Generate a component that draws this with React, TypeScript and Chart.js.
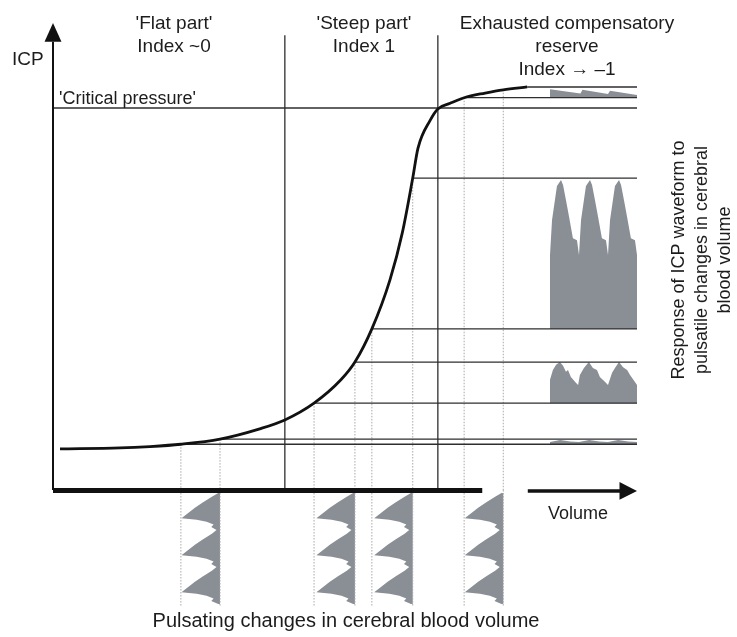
import { useEffect, useRef } from "react";
import { Chart, registerables } from "chart.js";

Chart.register(...registerables);

// ---------------- data ----------------
// Pressure–volume curve (volume and ICP in axis units, 0–100 along each axis)
const curveVolume = [1.2, 11.5, 16.6, 21.9, 28.6, 35.4, 39.7, 44.7, 49.3, 51.7, 54.6, 57.7, 59.8, 61.6, 62.5, 64.6, 65.9, 68.0, 70.4, 74.0, 77.1, 81.2];
const curveICP = [8.8, 9.0, 9.3, 9.8, 10.9, 13.1, 15.0, 18.6, 23.6, 27.4, 34.5, 45.0, 55.0, 66.8, 73.2, 79.2, 81.6, 82.8, 84.0, 85.0, 85.7, 86.3];

// Region boundaries and critical pressure
const regionBoundaryVolume = [39.7, 65.9];
const regionTopICP = 97.4;
const criticalICP = 81.8;

// Pulsatile volume change positions (left / right dotted lines) for the 4 cases
const pulseLowVolume = [21.9, 44.7, 54.6, 70.4];
const pulseHighVolume = [28.6, 51.7, 61.6, 77.1];
// ICP levels reached at these volumes
const responseLowICP = [9.8, 18.6, 34.5, 84.0];
const responseHighICP = [10.9, 27.4, 66.8, 86.3];
const responseHighStartVolume = [28.6, 51.7, 61.6, 81.2];
const pulseHighCurveICP = [10.9, 27.4, 66.8, 85.7];

// ICP response waveforms (time in cardiac cycles, 0–3)
const flatWaveTime = [0, 0.35, 0.7, 1.0, 1.35, 1.7, 2.0, 2.35, 2.7, 3.0];
const flatWaveICP = [10.3, 10.7, 10.4, 10.3, 10.7, 10.4, 10.3, 10.7, 10.4, 10.3];

const steepLowWaveTime = [0, 0.1, 0.21, 0.34, 0.45, 0.55, 0.62, 0.72, 0.9, 0.97, 1.03, 1.17, 1.34, 1.48, 1.62, 1.72, 1.9, 2.0, 2.14, 2.24, 2.38, 2.52, 2.66, 2.76, 2.93, 3.0];
const steepLowWaveICP = [23.6, 25.7, 26.8, 27.4, 26.6, 25.3, 25.7, 24.2, 22.9, 22.5, 24.6, 26.1, 27.4, 26.1, 25.7, 24.2, 23.1, 22.5, 25.1, 26.1, 27.4, 26.3, 25.7, 24.6, 23.1, 22.5];

const steepHighWaveTime = [0, 0.07, 0.17, 0.24, 0.38, 0.45, 0.55, 0.66, 0.79, 0.93, 1.0, 1.07, 1.17, 1.24, 1.38, 1.45, 1.55, 1.66, 1.79, 1.93, 2.0, 2.07, 2.17, 2.24, 2.38, 2.45, 2.55, 2.66, 2.79, 2.93, 3.0];
const steepHighWaveICP = [50.3, 57.8, 62.1, 65.1, 66.4, 65.3, 62.1, 58.4, 53.9, 53.5, 50.3, 57.8, 62.1, 65.1, 66.4, 65.3, 62.1, 58.4, 53.9, 53.5, 50.3, 57.8, 62.1, 65.1, 66.4, 65.3, 62.1, 58.4, 53.9, 53.5, 50.3];

const exhaustedWaveTime = [0, 1.05, 1.12, 2.0, 2.07, 3.0];
const exhaustedWaveICP = [85.8, 84.9, 85.7, 84.8, 85.5, 84.6];

// Pulsating cerebral blood volume (volume change vs time, same for all 4 cases)
const pulseVolumeTime = [0, 0.1, 0.25, 0.4, 0.55, 0.68, 0.72, 0.78, 0.85, 0.92, 1.0, 1.1, 1.25, 1.4, 1.55, 1.68, 1.72, 1.78, 1.85, 1.92, 2.0, 2.1, 2.25, 2.4, 2.55, 2.68, 2.72, 2.78, 2.85, 2.92, 3.0];
const pulseVolumeDelta = [0.3, 1.4, 2.9, 4.3, 5.5, 6.6, 4.0, 2.3, 1.1, 1.5, 0.6, 1.4, 2.9, 4.3, 5.5, 6.6, 4.0, 2.3, 1.1, 1.5, 0.6, 1.4, 2.9, 4.3, 5.5, 6.6, 4.0, 2.3, 1.1, 1.5, 0.3];

// Axes
const xAxisBarEndVolume = 73.5;
const volumeArrowVolume = [81.3, 97.0, 100];
const icpAxisTop = [96.0, 100];

// Text
const regionTitles = [
  ["'Flat part'", "Index ~0"],
  ["'Steep part'", "Index 1"],
  ["Exhausted compensatory", "reserve", "Index \u2192 \u20131"],
];
const sideTitle = ["Response of ICP waveform to", "pulsatile changes in cerebral", "blood volume"];
const bottomTitle = "Pulsating changes in cerebral blood volume";

// ---------------- layout ----------------
const W = 737;
const H = 637;
const BOX = { left: 53, right: 637, top: 23, bottom: 490 };
const RIGHT_WAVE = { left: 550, right: 637 };
const VOL_WAVE = { top: 493, bottom: 604 };

const FONT = '"Liberation Sans", Arial, Helvetica, sans-serif';
const TEXT = "#1c1c1c";
const GRAY = "#8a8f95";
const LINE = "#2e2e2e";
const DOT = "#a8a8a8";

const pxV = (BOX.right - BOX.left) / 100;
const pxI = (BOX.bottom - BOX.top) / 100;
const pxT = (RIGHT_WAVE.right - RIGHT_WAVE.left) / 3;
const pxTT = (VOL_WAVE.bottom - VOL_WAVE.top) / 3;

const pts = (xs: number[], ys: number[]) => xs.map((x, i) => ({ x, y: ys[i] }));

function buildDatasets(): any[] {
  const ds: any[] = [];
  const line = (data: any[], o: any = {}) => ({
    data,
    borderColor: LINE,
    borderWidth: 1.3,
    pointRadius: 0,
    fill: false,
    tension: 0,
    order: 2,
    ...o,
  });

  // ICP response waveforms (drawn first, underneath)
  const waves: [number[], number[]][] = [
    [flatWaveTime, flatWaveICP],
    [steepLowWaveTime, steepLowWaveICP],
    [steepHighWaveTime, steepHighWaveICP],
    [exhaustedWaveTime, exhaustedWaveICP],
  ];
  waves.forEach(([t, v], k) => {
    ds.push(
      line(pts(t, v), {
        xAxisID: "xt",
        yAxisID: "y",
        borderWidth: 0,
        backgroundColor: GRAY,
        fill: { value: responseLowICP[k] },
        order: 5,
      })
    );
  });

  // Pulsating volume waveforms
  pulseHighVolume.forEach((hi) => {
    const edge = pulseVolumeTime.map((t, i) => ({ x: hi - pulseVolumeDelta[i], y: t }));
    const poly = [{ x: hi, y: 0 }, ...edge, { x: hi, y: 3 }];
    ds.push(
      line(poly, {
        xAxisID: "x",
        yAxisID: "yt",
        borderWidth: 0,
        backgroundColor: GRAY,
        fill: "shape",
        order: 5,
      })
    );
  });

  // Level lines
  pulseLowVolume.forEach((v, k) => {
    ds.push(line([{ x: v, y: responseLowICP[k] }, { x: 100, y: responseLowICP[k] }], { xAxisID: "x", yAxisID: "y" }));
  });
  responseHighStartVolume.forEach((v, k) => {
    ds.push(line([{ x: v, y: responseHighICP[k] }, { x: 100, y: responseHighICP[k] }], { xAxisID: "x", yAxisID: "y" }));
  });

  // Dotted verticals
  const dotted = { borderColor: DOT, borderWidth: 1, borderDash: [1.5, 1.5], order: 3 };
  const tops = [...responseLowICP, ...pulseHighCurveICP];
  [...pulseLowVolume, ...pulseHighVolume].forEach((v, k) => {
    ds.push(line([{ x: v, y: tops[k] }, { x: v, y: 0 }], { xAxisID: "x", yAxisID: "y", ...dotted }));
    ds.push(line([{ x: v, y: -0.08 }, { x: v, y: 3.05 }], { xAxisID: "x", yAxisID: "yt", ...dotted }));
  });

  // Critical pressure and region dividers
  ds.push(line([{ x: 0, y: criticalICP }, { x: 100, y: criticalICP }], { xAxisID: "x", yAxisID: "y" }));
  regionBoundaryVolume.forEach((v) => {
    ds.push(line([{ x: v, y: 0 }, { x: v, y: regionTopICP }], { xAxisID: "x", yAxisID: "y" }));
  });

  // Curve
  ds.push(
    line(pts(curveVolume, curveICP), {
      xAxisID: "x",
      yAxisID: "y",
      borderColor: "#111",
      borderWidth: 2.8,
      cubicInterpolationMode: "monotone",
      order: 1,
    })
  );

  // Axes
  const ax = { xAxisID: "x", yAxisID: "y", borderColor: "#111", order: 0 };
  ds.push(line([{ x: 0, y: 0 }, { x: 0, y: icpAxisTop[0] }], { ...ax, borderWidth: 2 }));
  ds.push(
    line([{ x: -1.45, y: icpAxisTop[0] }, { x: 0, y: icpAxisTop[1] }, { x: 1.45, y: icpAxisTop[0] }], {
      ...ax,
      borderWidth: 0,
      backgroundColor: "#111",
      fill: "shape",
    })
  );
  ds.push(line([{ x: 0, y: -0.1 }, { x: xAxisBarEndVolume, y: -0.1 }], { ...ax, borderWidth: 5, borderCapStyle: "butt" }));
  ds.push(line([{ x: volumeArrowVolume[0], y: -0.2 }, { x: volumeArrowVolume[1] + 0.5, y: -0.2 }], { ...ax, borderWidth: 3.5 }));
  ds.push(
    line(
      [
        { x: volumeArrowVolume[1], y: 1.7 },
        { x: volumeArrowVolume[2], y: -0.2 },
        { x: volumeArrowVolume[1], y: -2.1 },
      ],
      { ...ax, borderWidth: 0, backgroundColor: "#111", fill: "shape" }
    )
  );
  return ds;
}

const textPlugin = {
  id: "diagramText",
  afterDatasetsDraw(chart: any) {
    const ctx: CanvasRenderingContext2D = chart.ctx;
    ctx.save();
    ctx.fillStyle = TEXT;
    ctx.textBaseline = "alphabetic";
    const set = (size: number) => (ctx.font = `${size}px ${FONT}`);

    const titleCenters = [174, 364, 567];
    const titleBaselines = [29, 52, 75];
    set(19);
    ctx.textAlign = "center";
    regionTitles.forEach((lines, i) => {
      lines.forEach((t, j) => ctx.fillText(t, titleCenters[i], titleBaselines[j]));
    });

    ctx.textAlign = "left";
    set(19);
    ctx.fillText("ICP", 12, 65);
    set(18);
    ctx.fillText("'Critical pressure'", 59, 104);
    set(18);
    ctx.fillText("Volume", 548, 519);

    set(20);
    ctx.textAlign = "center";
    ctx.fillText(bottomTitle, 346, 627);

    set(18);
    ctx.textBaseline = "middle";
    const sideX = [679, 702, 725];
    sideTitle.forEach((t, i) => {
      ctx.save();
      ctx.translate(sideX[i], 260);
      ctx.rotate(-Math.PI / 2);
      ctx.fillText(t, 0, 0);
      ctx.restore();
    });
    ctx.restore();
  },
};

export default function App() {
  const ref = useRef<HTMLCanvasElement>(null);
  useEffect(() => {
    if (!ref.current) return;
    const chart = new Chart(ref.current, {
      type: "line",
      data: { datasets: buildDatasets() },
      options: {
        responsive: false,
        animation: false,
        events: [],
        layout: { padding: 0 },
        plugins: { legend: { display: false }, tooltip: { enabled: false } },
        scales: {
          x: { type: "linear", axis: "x", display: false, bounds: "data", min: -BOX.left / pxV, max: 100 + (W - BOX.right) / pxV },
          y: { type: "linear", axis: "y", display: false, bounds: "data", min: -(H - BOX.bottom) / pxI, max: 100 + BOX.top / pxI },
          xt: { type: "linear", axis: "x", display: false, bounds: "data", min: -RIGHT_WAVE.left / pxT, max: 3 + (W - RIGHT_WAVE.right) / pxT },
          yt: { type: "linear", axis: "y", display: false, bounds: "data", reverse: true, min: -VOL_WAVE.top / pxTT, max: 3 + (H - VOL_WAVE.bottom) / pxTT },
        },
      } as any,
      plugins: [textPlugin],
    });
    return () => chart.destroy();
  }, []);
  return (
    <div style={{ position: "fixed", left: 0, top: 0, width: W, height: H, background: "#fff" }}>
      <canvas ref={ref} width={W} height={H} style={{ display: "block", width: W, height: H }} />
    </div>
  );
}
